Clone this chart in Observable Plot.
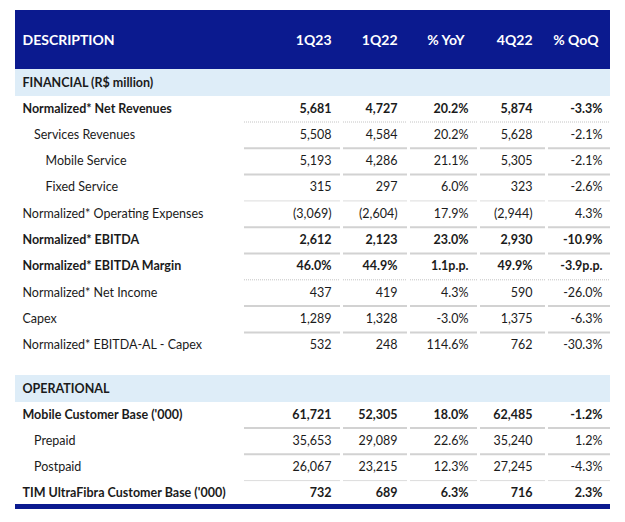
<!DOCTYPE html>
<html><head><meta charset="utf-8">
<script src="https://cdn.jsdelivr.net/npm/d3@7"></script>
<script src="https://cdn.jsdelivr.net/npm/@observablehq/plot@0.6"></script>
<style>body{margin:0;background:#fff} svg{display:block}</style>
</head><body><div id="chart"></div>
<script>
// ---- data ----
const headerLabel = "DESCRIPTION";
const columns = ["1Q23", "1Q22", "% YoY", "4Q22", "% QoQ"];
const sections = ["FINANCIAL (R$ million)", "OPERATIONAL"];
const labels = [
  "Normalized* Net Revenues", "Services Revenues", "Mobile Service", "Fixed Service",
  "Normalized* Operating Expenses", "Normalized* EBITDA", "Normalized* EBITDA Margin",
  "Normalized* Net Income", "Capex", "Normalized* EBITDA-AL - Capex",
  "Mobile Customer Base ('000)", "Prepaid", "Postpaid", "TIM UltraFibra Customer Base ('000)"
];
const rowSection = [0,0,0,0,0,0,0,0,0,0,1,1,1,1];
const rowLevel   = [0,1,2,2,0,0,0,0,0,0,0,1,1,0];
const rowBold    = [1,0,0,0,0,1,1,0,0,0,1,0,0,1];
const rowIsMargin= [0,0,0,0,0,0,1,0,0,0,0,0,0,0];
const q1_23 = [5681, 5508, 5193, 315, -3069, 2612, 46.0, 437, 1289, 532, 61721, 35653, 26067, 732];
const q1_22 = [4727, 4584, 4286, 297, -2604, 2123, 44.9, 419, 1328, 248, 52305, 29089, 23215, 689];
const yoy   = [20.2, 20.2, 21.1, 6.0, 17.9, 23.0, 1.1, 4.3, -3.0, 114.6, 18.0, 22.6, 12.3, 6.3];
const q4_22 = [5874, 5628, 5305, 323, -2944, 2930, 49.9, 590, 1375, 762, 62485, 35240, 27245, 716];
const qoq   = [-3.3, -2.1, -2.1, -2.6, 4.3, -10.9, -3.9, -26.0, -6.3, -30.3, -1.2, 1.2, -4.3, 2.3];

// ---- layout ----
const W = 625, H = 522;
const left = 15, right = 610;
const colRight = [331, 397, 468, 532, 602];
const headerColRight = [331, 397, 464, 532, 598];
const segs = [[244, 340], [343, 407], [410, 477], [480, 545], [548, 610]];
const rowH = 26.3;
const sectionTop = [69, 375];
const rowStart = [108, 414];
const rowY = i => {
  const s = rowSection[i];
  const k = i - rowSection.indexOf(s);
  return rowStart[s] + k * rowH;
};
const navy = "#0b1a8f";
const band = "#deedf8";
const ink = "#1b1b1b";

const fmtNum = v => v < 0 ? "(" + d3.format(",")(-v) + ")" : d3.format(",")(v);
const fmtPct = v => v.toFixed(1) + "%";
const fmtPP = v => v.toFixed(1) + "p.p.";

const cells = [];
labels.forEach((lab, i) => {
  const vals = [q1_23[i], q1_22[i], yoy[i], q4_22[i], qoq[i]];
  vals.forEach((v, j) => {
    let t;
    if (rowIsMargin[i]) t = (j === 2 || j === 4) ? fmtPP(v) : fmtPct(v);
    else t = (j === 2 || j === 4) ? fmtPct(v) : fmtNum(v);
    cells.push({x: colRight[j], y: rowY(i), text: t, bold: rowBold[i]});
  });
});
const rows = labels.map((lab, i) => ({
  x: 22 + rowLevel[i] * 11.5, y: rowY(i), text: lab, bold: rowBold[i]
}));

const divStyle = i => (rowIsMargin[i] || i === 0) ? "dot" : (i === 3 || i === 12 ? "thin" : "thick");
const dividers = [];
labels.forEach((lab, i) => {
  if (i === 9 || i === 13) return;
  segs.forEach(([a, b]) => dividers.push({x1: a, x2: b, y: rowY(i) + 13.5, style: divStyle(i)}));
});

const headerCells = columns.map((c, j) => ({x: headerColRight[j], text: c}));
const sectionBands = sections.map((s, k) => ({y1: sectionTop[k], y2: sectionTop[k] + 27, text: s}));

const txt = (data, anchor, weight) => Plot.text(data, {x: "x", y: "y", text: "text", textAnchor: anchor, fill: ink, fontSize: 12.5, fontWeight: weight});

const chart = Plot.plot({
  width: W, height: H,
  margin: 0,
  x: {type: "linear", domain: [0, W], range: [0, W], axis: null},
  y: {type: "linear", domain: [0, H], range: [0, H], axis: null},
  style: {fontFamily: "Lato, 'Open Sans', sans-serif", background: "#fff"},
  marks: [
    Plot.rect([{x1: left, x2: right, y1: 10, y2: 69}], {x1: "x1", x2: "x2", y1: "y1", y2: "y2", fill: navy}),
    Plot.text([{x: 22, y: 40, text: headerLabel}], {x: "x", y: "y", text: "text", textAnchor: "start", fill: "#fff", fontWeight: "bold", fontSize: 14}),
    Plot.text(headerCells, {x: "x", y: () => 40, text: "text", textAnchor: "end", fill: "#fff", fontWeight: "bold", fontSize: 14}),
    Plot.rect(sectionBands, {x1: () => left, x2: () => right, y1: "y1", y2: "y2", fill: band}),
    Plot.text(sectionBands, {x: () => 22, y: d => (d.y1 + d.y2) / 2, text: "text", textAnchor: "start", fill: ink, fontWeight: "bold", fontSize: 12.5}),
    Plot.ruleY(dividers.filter(d => d.style === "thick"), {x1: "x1", x2: "x2", y: "y", stroke: "#d2d2d2", strokeWidth: 2}),
    Plot.ruleY(dividers.filter(d => d.style === "thin"), {x1: "x1", x2: "x2", y: "y", stroke: "#dcdcdc", strokeWidth: 1}),
    Plot.ruleY(dividers.filter(d => d.style === "dot"), {x1: "x1", x2: "x2", y: "y", stroke: "#c4c4c4", strokeWidth: 1, strokeDasharray: "1,1"}),
    txt(rows.filter(d => !d.bold), "start", "normal"),
    txt(rows.filter(d => d.bold), "start", "bold"),
    txt(cells.filter(d => !d.bold), "end", "normal"),
    txt(cells.filter(d => d.bold), "end", "bold"),
    Plot.rect([{x1: left, x2: right, y1: 504, y2: 509}], {x1: "x1", x2: "x2", y1: "y1", y2: "y2", fill: navy})
  ]
});
document.getElementById("chart").appendChild(chart);
</script>
</body></html>
